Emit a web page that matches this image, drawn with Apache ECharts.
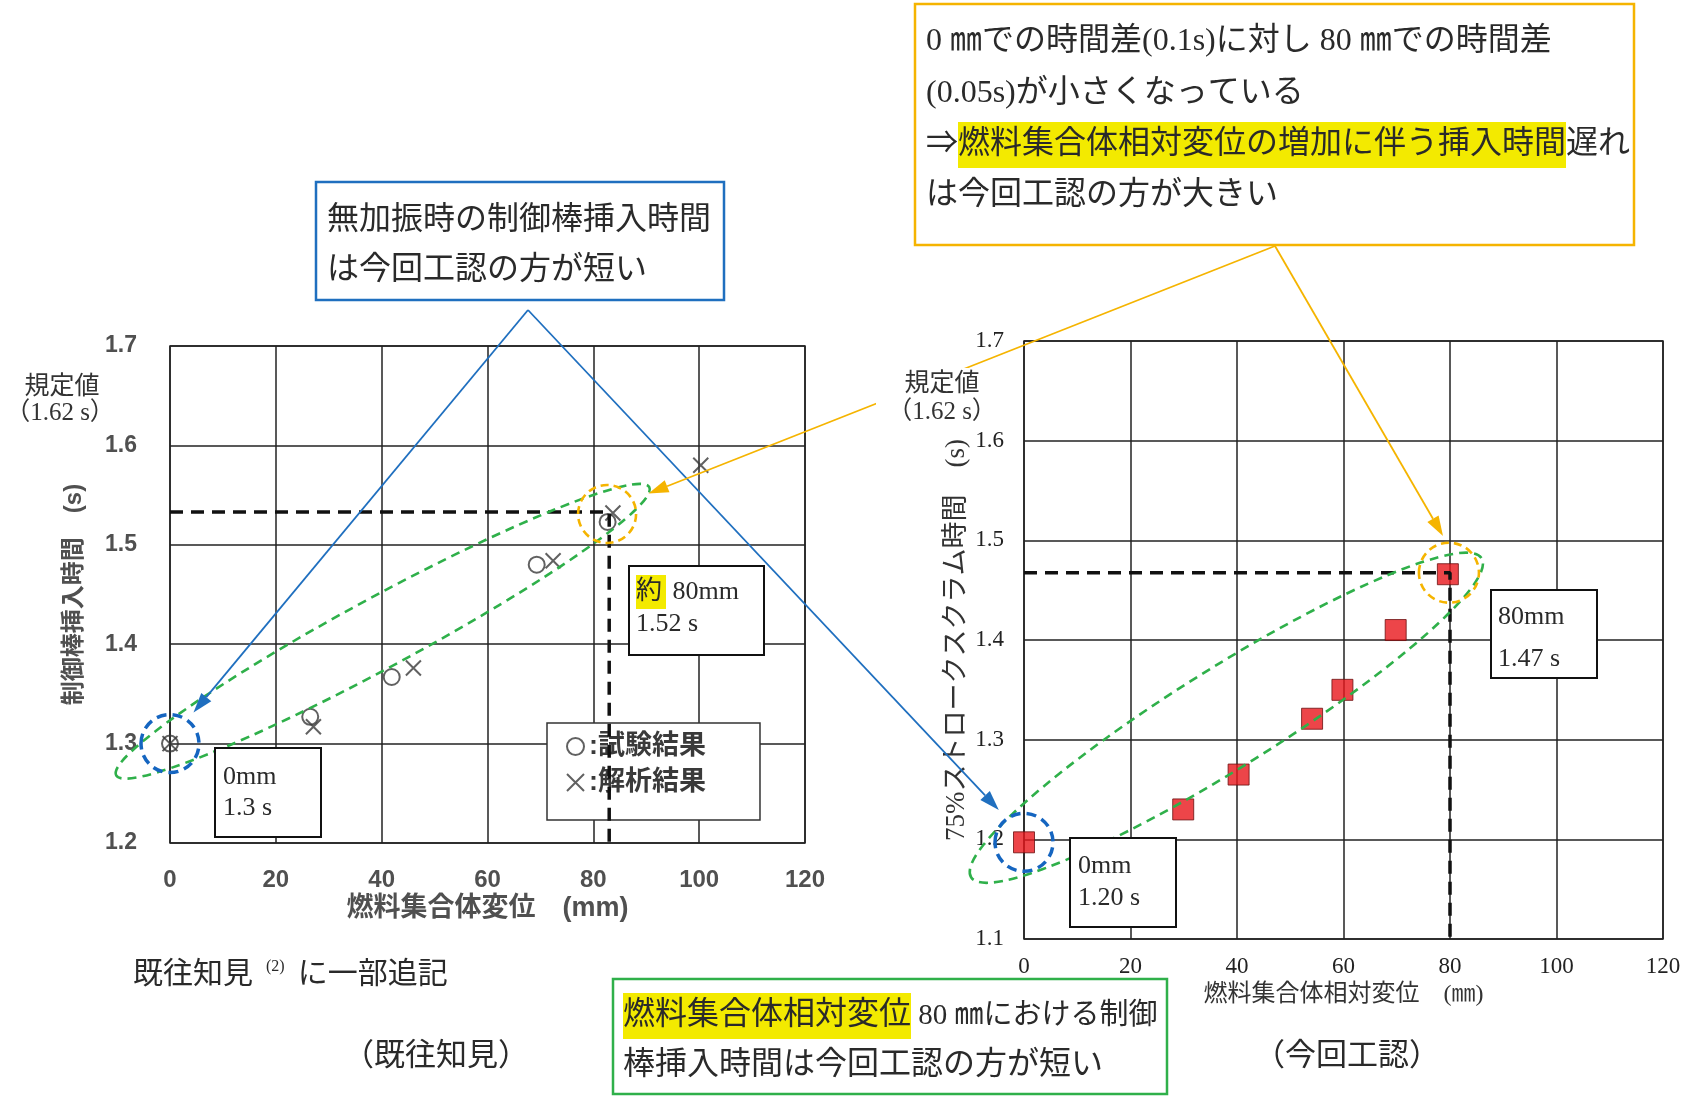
<!DOCTYPE html>
<html><head><meta charset="utf-8">
<script src="https://cdn.jsdelivr.net/npm/echarts@6/dist/echarts.min.js"></script>
<style>html,body{margin:0;padding:0;background:#fff}#c{width:1690px;height:1096px}</style>
</head><body><div id="c"></div>
<script>
// ---- data ----
const leftXTicks = [0, 20, 40, 60, 80, 100, 120];
const leftYTicks = [1.2, 1.3, 1.4, 1.5, 1.6, 1.7];
const rightXTicks = [0, 20, 40, 60, 80, 100, 120];
const rightYTicks = [1.1, 1.2, 1.3, 1.4, 1.5, 1.6, 1.7];
const testResults = [[0, 1.300], [26.5, 1.327], [41.9, 1.367], [69.3, 1.480], [82.7, 1.523]];
const analysisResults = [[0, 1.300], [27.1, 1.317], [46.0, 1.376], [72.4, 1.484], [83.7, 1.532], [100.3, 1.580]];
const scramTimes = [[0, 1.197], [29.9, 1.230], [40.3, 1.265], [54.1, 1.321], [59.8, 1.350], [69.8, 1.410], [79.6, 1.466]];
const leftRef = [83, 1.533];
const rightRef = [80, 1.4675];
const seriesNames = ['試験結果', '解析結果', '75%ストロークスクラム時間'];

const SANS = "'Liberation Sans','Noto Sans CJK JP',sans-serif";
const SERIF = "'Liberation Serif','Noto Sans CJK JP',serif";
const CJK = "'Liberation Serif','Noto Sans CJK JP',sans-serif";

const chart = echarts.init(document.getElementById('c'), null, {renderer: 'canvas'});

function axisX(grid, ticks, name, left) {
  return {
    type: 'value', gridIndex: grid, min: ticks[0], max: ticks[ticks.length - 1],
    interval: ticks[1] - ticks[0],
    axisLine: {show: false}, axisTick: {show: false},
    splitLine: {show: true, lineStyle: {color: '#222', width: 1.5}},
    axisLabel: left
      ? {margin: 25, fontSize: 24, fontWeight: 'bold', color: '#505050', fontFamily: SANS}
      : {margin: 16, fontSize: 23, color: '#222', fontFamily: SERIF},
    name: name, nameLocation: 'middle', nameGap: left ? 52 : 36,
    nameTextStyle: left
      ? {fontSize: 27, fontWeight: 'bold', color: '#505050', fontFamily: SANS}
      : {fontSize: 24, color: '#333', fontFamily: CJK}
  };
}
function axisY(grid, ticks, name, left) {
  return {
    type: 'value', gridIndex: grid, min: ticks[0], max: ticks[ticks.length - 1],
    interval: 0.1,
    axisLine: {show: false}, axisTick: {show: false},
    splitLine: {show: true, lineStyle: {color: '#222', width: 1.5}},
    axisLabel: left
      ? {margin: 33, fontSize: 23, fontWeight: 'bold', color: '#505050', fontFamily: SANS, formatter: v => v.toFixed(1)}
      : {margin: 20, fontSize: 23, color: '#222', fontFamily: SERIF, formatter: v => v.toFixed(1)},
    name: name, nameLocation: 'middle', nameGap: left ? 84 : 54,
    nameTextStyle: left
      ? {fontSize: 24, fontWeight: 'bold', color: '#505050', fontFamily: SANS}
      : {fontSize: 27, color: '#333', fontFamily: CJK}
  };
}

const option = {
  backgroundColor: '#fff',
  animation: false,
  grid: [
    {left: 170, top: 346, width: 635, height: 497, show: true, borderColor: '#222', borderWidth: 1.5},
    {left: 1024, top: 341, width: 639, height: 598, show: true, borderColor: '#222', borderWidth: 1.5}
  ],
  xAxis: [
    axisX(0, leftXTicks, '燃料集合体変位　(mm)', true),
    axisX(1, rightXTicks, '燃料集合体相対変位　(㎜)', false)
  ],
  yAxis: [
    axisY(0, leftYTicks, '制御棒挿入時間　(s)', true),
    axisY(1, rightYTicks, '75%ストロークスクラム時間　(s)', false)
  ],
  legend: {
    data: [seriesNames[0], seriesNames[1]],
    orient: 'vertical', left: 547, top: 723,
    padding: [10, 54, 24, 19], itemGap: 9, itemWidth: 17, itemHeight: 17,
    backgroundColor: '#fff', borderColor: '#333', borderWidth: 1.5, borderRadius: 0,
    formatter: n => ':' + n,
    textStyle: {fontSize: 27, fontWeight: 'bold', color: '#3a3a3a', fontFamily: SANS}
  },
  series: [
    {name: seriesNames[0], type: 'scatter', xAxisIndex: 0, yAxisIndex: 0, data: testResults,
     symbol: 'circle', symbolSize: 16,
     itemStyle: {color: 'rgba(255,255,255,0)', borderColor: '#3a3a3a', borderWidth: 2}, z: 3},
    {name: seriesNames[1], type: 'scatter', xAxisIndex: 0, yAxisIndex: 0, data: analysisResults,
     symbol: 'path://M0 0L10 10M10 0L0 10', symbolSize: 15,
     itemStyle: {color: 'rgba(0,0,0,0)', borderColor: '#3a3a3a', borderWidth: 2}, z: 3},
    {type: 'line', xAxisIndex: 0, yAxisIndex: 0, silent: true, symbol: 'none', z: 6,
     data: [[leftXTicks[0], leftRef[1]], [leftRef[0], leftRef[1]], [leftRef[0], leftYTicks[0]]],
     lineStyle: {color: '#111', width: 3.5, type: [13, 8]}},
    {name: seriesNames[2], type: 'scatter', xAxisIndex: 1, yAxisIndex: 1, data: scramTimes,
     symbol: 'rect', symbolSize: 21,
     itemStyle: {color: '#e8171c', borderColor: '#6a1010', borderWidth: 1}, z: 3},
    {type: 'line', xAxisIndex: 1, yAxisIndex: 1, silent: true, symbol: 'none', z: 6,
     data: [[rightXTicks[0], rightRef[1]], [rightRef[0], rightRef[1]], [rightRef[0], rightYTicks[0]]],
     lineStyle: {color: '#111', width: 3.5, type: [13, 8]}}
  ]
};
chart.setOption(option);

// ---- annotations ----
const L = p => chart.convertToPixel({xAxisIndex: 0, yAxisIndex: 0}, p);
const R = p => chart.convertToPixel({xAxisIndex: 1, yAxisIndex: 1}, p);
const BLUE = '#1f6fbf', ORANGE = '#f5b400', GREEN = '#2fb04a', YEL = '#f3ea00';
const g = [];

function ellipse(c, rx, ry, deg, color, w, dash, z) {
  g.push({type: 'ellipse', x: c[0], y: c[1], rotation: deg * Math.PI / 180, shape: {cx: 0, cy: 0, rx: rx, ry: ry},
          style: {fill: 'none', stroke: color, lineWidth: w, lineDash: dash}, z: z, silent: true});
}
function arrow(x1, y1, x2, y2, color, w, hl, hw) {
  const a = Math.atan2(y2 - y1, x2 - x1);
  const bx = x2 - hl * Math.cos(a), by = y2 - hl * Math.sin(a);
  const px = -Math.sin(a) * hw / 2, py = Math.cos(a) * hw / 2;
  g.push({type: 'line', shape: {x1: x1, y1: y1, x2: bx, y2: by}, style: {stroke: color, lineWidth: w}, z: 100, silent: true});
  g.push({type: 'polygon', shape: {points: [[x2, y2], [bx + px, by + py], [bx - px, by - py]]}, style: {fill: color}, z: 100, silent: true});
}
function box(x, y, w, h, color, lw, z) {
  g.push({type: 'rect', shape: {x: x, y: y, width: w, height: h}, style: {fill: '#fff', stroke: color, lineWidth: lw}, z: z, silent: true});
}
function txt(x, y, text, size, opts) {
  opts = opts || {};
  g.push({type: 'text', x: x, y: y, z: opts.z || 60, silent: true,
    style: {text: text, fontSize: size, fontFamily: opts.font || CJK, fill: opts.color || '#2a2a2a',
            align: opts.align || 'left', verticalAlign: 'middle', rich: opts.rich}});
}
const hlRich = size => ({hl: {backgroundColor: YEL, fontSize: size, fontFamily: CJK, color: '#2a2a2a', padding: [7, 0, 7, 0]},
                         r: {fontSize: size - 3, fontFamily: CJK, color: '#2a2a2a'},
                         sup: {fontSize: 16, fontFamily: SERIF, color: '#2a2a2a', padding: [0, 13, 16, 13]}});

// green dashed ellipses
ellipse(L([40.2, 1.413]), 303, 35, 28.4, GREEN, 2.6, [9, 6], 40);
ellipse(R([38.0, 1.322]), 301, 50, 32, GREEN, 2.6, [9, 6], 40);
// blue dashed circles
ellipse(L(testResults[0]), 29, 29, 0, '#1565c0', 3.5, [10, 6], 42);
ellipse(R(scramTimes[0]), 29, 29, 0, '#1565c0', 3.5, [10, 6], 42);
// orange dashed circles
ellipse(L([82.6, 1.531]), 29, 29, 0, ORANGE, 2.6, [8, 5], 42);
ellipse(R([79.8, 1.4675]), 30, 30, 0, ORANGE, 2.6, [8, 5], 42);

// value boxes
box(215, 748, 106, 89, '#111', 2, 50);
txt(223, 777, '0mm', 26, {font: SERIF, z: 51});
txt(223, 808, '1.3 s', 26, {font: SERIF, z: 51});
box(629, 566, 135, 89, '#111', 2, 50);
txt(636, 592, '{hl|約} 80mm', 26, {font: SERIF, z: 51, rich: {hl: {backgroundColor: YEL, fontSize: 26, fontFamily: CJK, color: '#2a2a2a', padding: [4, 4, 4, 0]}}});
txt(636, 624, '1.52 s', 26, {font: SERIF, z: 51});
box(1491, 590, 106, 88, '#111', 2, 50);
txt(1498, 617, '80mm', 26, {font: SERIF, z: 51});
txt(1498, 659, '1.47 s', 26, {font: SERIF, z: 51});
box(1070, 838, 106, 89, '#111', 2, 50);
txt(1078, 866, '0mm', 26, {font: SERIF, z: 51});
txt(1078, 898, '1.20 s', 26, {font: SERIF, z: 51});

// 規定値 labels
txt(62, 387, '規定値', 25, {align: 'center', color: '#333'});
txt(60, 413, '（1.62 s）', 25, {align: 'center', color: '#333', font: CJK});
g.push({type: 'rect', shape: {x: 876, y: 368, width: 124, height: 62}, style: {fill: '#fff'}, z: 101, silent: true});
txt(942, 384, '規定値', 25, {align: 'center', color: '#333', z: 102});
txt(942, 412, '（1.62 s）', 25, {align: 'center', color: '#333', z: 102});

// callout boxes
const CF = 32;
box(316, 182, 408, 118, BLUE, 2.5, 80);
txt(327, 221, '無加振時の制御棒挿入時間', CF, {z: 81});
txt(327, 271, 'は今回工認の方が短い', CF, {z: 81});

box(915, 4, 719, 241, ORANGE, 2.5, 80);
txt(926, 42, '0 ㎜での時間差(0.1s)に対し 80 ㎜での時間差', CF, {z: 81});
txt(926, 94, '(0.05s)が小さくなっている', CF, {z: 81});
txt(926, 145, '⇒{hl|燃料集合体相対変位の増加に伴う挿入時間}遅れ', CF, {z: 81, rich: hlRich(CF)});
txt(926, 196, 'は今回工認の方が大きい', CF, {z: 81});

box(613, 979, 554, 115, GREEN, 2.5, 80);
txt(623, 1016, '{hl|燃料集合体相対変位}{r| 80 ㎜における制御}', CF, {z: 81, rich: hlRich(CF)});
txt(623, 1066, '棒挿入時間は今回工認の方が短い', CF, {z: 81});

// captions
txt(133, 975, '既往知見{sup|(2)}に一部追記', 30, {rich: hlRich(30)});
txt(436, 1057, '（既往知見）', 31, {align: 'center'});
txt(1347, 1057, '（今回工認）', 31, {align: 'center'});

// callout arrows
arrow(528, 310, 193.5, 712.5, BLUE, 1.8, 20, 13);
arrow(528, 310, 998.8, 810, BLUE, 1.8, 20, 13);
arrow(1275, 246, 1443, 536, ORANGE, 1.8, 20, 13);
arrow(1275, 246, 648.5, 493.6, ORANGE, 1.8, 20, 13);

chart.setOption({graphic: g});
</script></body></html>
